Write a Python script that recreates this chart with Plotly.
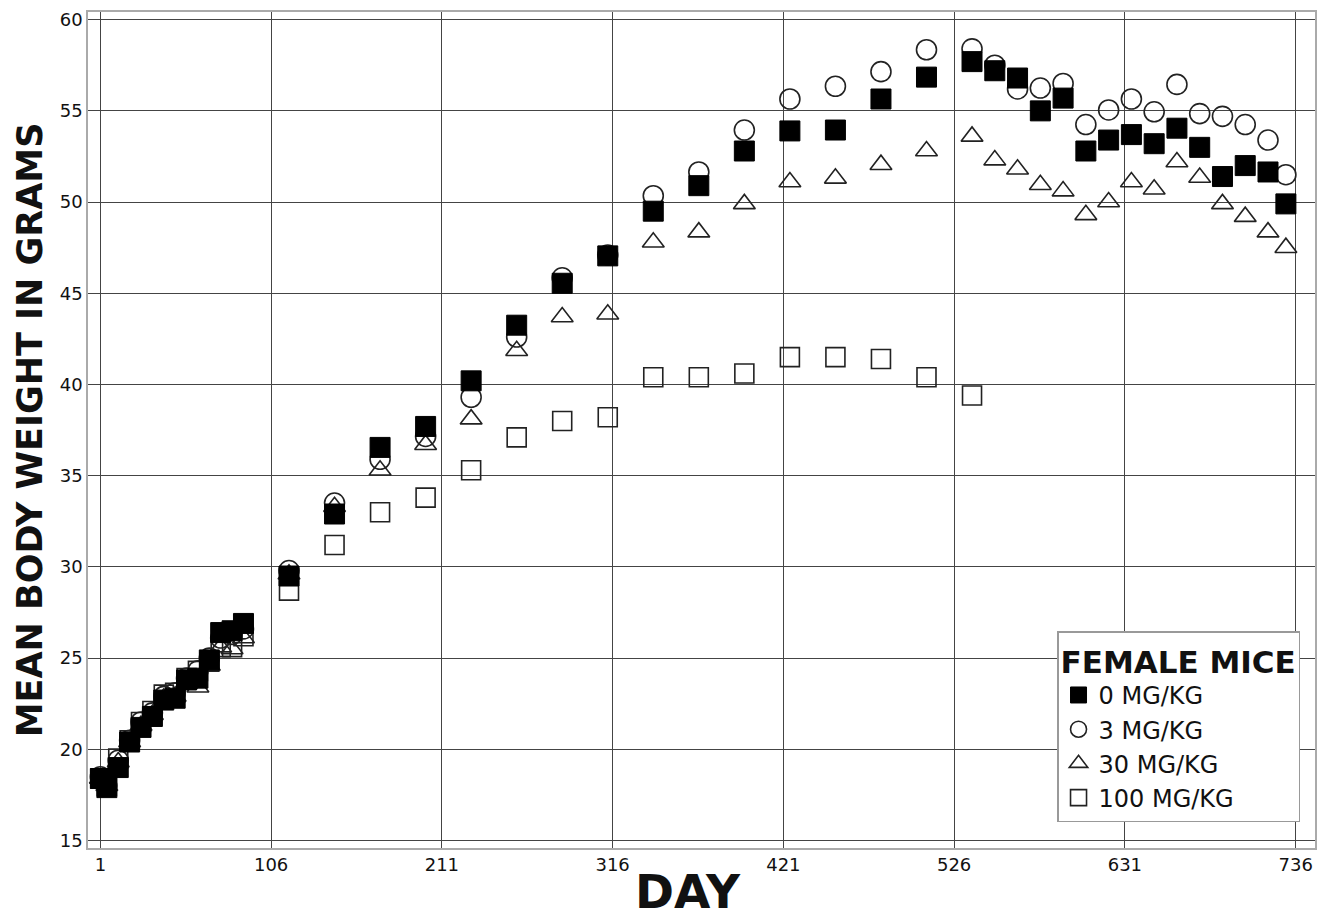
import plotly.graph_objects as go

days = [1, 5, 12, 19, 26, 33, 40, 47, 54, 61, 68, 75, 82, 89,
        117, 145, 173, 201, 229, 257, 285, 313, 341, 369, 397, 425, 453, 481, 509, 537,
        551, 565, 579, 593, 607, 621, 635, 649, 663, 677, 691, 705, 719, 730]

mg0 = [18.4, 17.9, 19.0, 20.4, 21.2, 21.8, 22.7, 22.8, 23.8, 23.9, 24.9, 26.4, 26.5, 26.9,
       29.5, 32.9, 36.55, 37.7, 40.2, 43.25, 45.55, 47.05, 49.5, 50.9, 52.8, 53.9, 53.95, 55.65, 56.85, 57.7,
       57.2, 56.8, 55.0, 55.7, 52.8, 53.4, 53.7, 53.2, 54.05, 53.0, 51.4, 52.0, 51.65, 49.9]

mg3 = [18.5, 18.0, 19.4, 20.5, 21.5, 22.0, 22.9, 23.1, 23.9, 24.3, 25.0, 26.1, 26.3, 26.6,
       29.8, 33.5, 35.9, 37.15, 39.3, 42.6, 45.85, 47.1, 50.35, 51.65, 53.95, 55.65, 56.35, 57.15, 58.35, 58.4,
       57.5, 56.2, 56.25, 56.5, 54.25, 55.05, 55.65, 54.95, 56.45, 54.85, 54.7, 54.25, 53.4, 51.5]

mg30 = [18.4, 18.0, 19.3, 20.4, 21.3, 21.9, 22.8, 22.9, 23.6, 23.4, 24.6, 25.6, 25.5, 26.1,
        29.6, 33.3, 35.3, 36.7, 38.1, 41.85, 43.7, 43.85, 47.8, 48.35, 49.9, 51.1, 51.3, 52.05, 52.8, 53.6,
        52.3, 51.8, 50.95, 50.6, 49.3, 50.0, 51.1, 50.7, 52.2, 51.35, 49.9, 49.2, 48.35, 47.5]

mg100 = [18.4, 18.0, 19.5, 20.5, 21.5, 22.1, 23.0, 23.1, 23.9, 24.3, 24.8, 25.6, 25.6, 26.2,
         28.7, 31.2, 33.0, 33.8, 35.3, 37.1, 38.0, 38.2, 40.4, 40.4, 40.6, 41.5, 41.5, 41.4, 40.4, 39.4,
         None, None, None, None, None, None, None, None, None, None, None, None, None, None]

series_names = ["0 MG/KG", "3 MG/KG", "30 MG/KG", "100 MG/KG"]
x_ticks = [1, 106, 211, 316, 421, 526, 631, 736]
y_ticks = [15, 20, 25, 30, 35, 40, 45, 50, 55, 60]
x_title = "DAY"
y_title = "MEAN BODY WEIGHT IN GRAMS"

FONT = "DejaVu Sans"

fig = go.Figure()

# draw order: open markers first, filled squares on top
fig.add_trace(go.Scatter(
    x=days, y=mg100, mode="markers", name=series_names[3],
    marker=dict(symbol="square-open", size=19, color="#222", line=dict(width=1.6, color="#222")),
))
fig.add_trace(go.Scatter(
    x=days, y=mg30, mode="markers", name=series_names[2],
    marker=dict(symbol="triangle-up-open", size=19, color="#222", line=dict(width=1.6, color="#222")),
))
fig.add_trace(go.Scatter(
    x=days, y=mg3, mode="markers", name=series_names[1],
    marker=dict(symbol="circle-open", size=20, color="#222", line=dict(width=1.6, color="#222")),
))
fig.add_trace(go.Scatter(
    x=days, y=mg0, mode="markers", name=series_names[0],
    marker=dict(symbol="square", size=20, color="#000", line=dict(width=1, color="#000")),
))

fig.update_layout(
    width=1318, height=922,
    margin=dict(l=88, r=3, t=12, b=74),
    paper_bgcolor="white", plot_bgcolor="white",
    font=dict(family=FONT, color="#111"),
    showlegend=True,
    legend=dict(
        traceorder="reversed",
        x=0.9878, xanchor="right", y=0.031, yanchor="bottom",
        bgcolor="white", bordercolor="#999", borderwidth=1.5,
        font=dict(family=FONT, size=24, color="#111"),
        title=dict(text="<b>FEMALE MICE</b>", font=dict(family=FONT, size=31, color="#111")),
        itemwidth=30, tracegroupgap=0,
    ),
    xaxis=dict(
        range=[-6.6, 747.9], tickvals=x_ticks, ticktext=[str(v) for v in x_ticks],
        showgrid=True, gridcolor="#444", gridwidth=1, automargin=False,
        zeroline=False, showline=True, linecolor="#aaa", linewidth=1.5, mirror=True,
        ticks="", tickfont=dict(family=FONT, size=18, color="#111"),
    ),
    yaxis=dict(
        range=[14.59, 60.42], tickvals=y_ticks, ticktext=[str(v) for v in y_ticks],
        showgrid=True, gridcolor="#444", gridwidth=1, automargin=False,
        zeroline=False, showline=True, linecolor="#aaa", linewidth=1.5, mirror=True,
        ticks="", tickfont=dict(family=FONT, size=18, color="#111"),
        title=dict(text="<b>" + y_title + "</b>", font=dict(family=FONT, size=35, color="#111"), standoff=6),
    ),
    annotations=[dict(
        text="<b>" + x_title + "</b>", xref="paper", yref="paper",
        x=0.489, y=-0.0522, xanchor="center", yanchor="middle", showarrow=False,
        font=dict(family=FONT, size=47, color="#111"),
    )],
)

# remove the browser's default 8px body margin so the figure sits at the page origin
fig.write_html("out.html", config={"displayModeBar": False},
               post_script="document.body.style.margin='0';")
